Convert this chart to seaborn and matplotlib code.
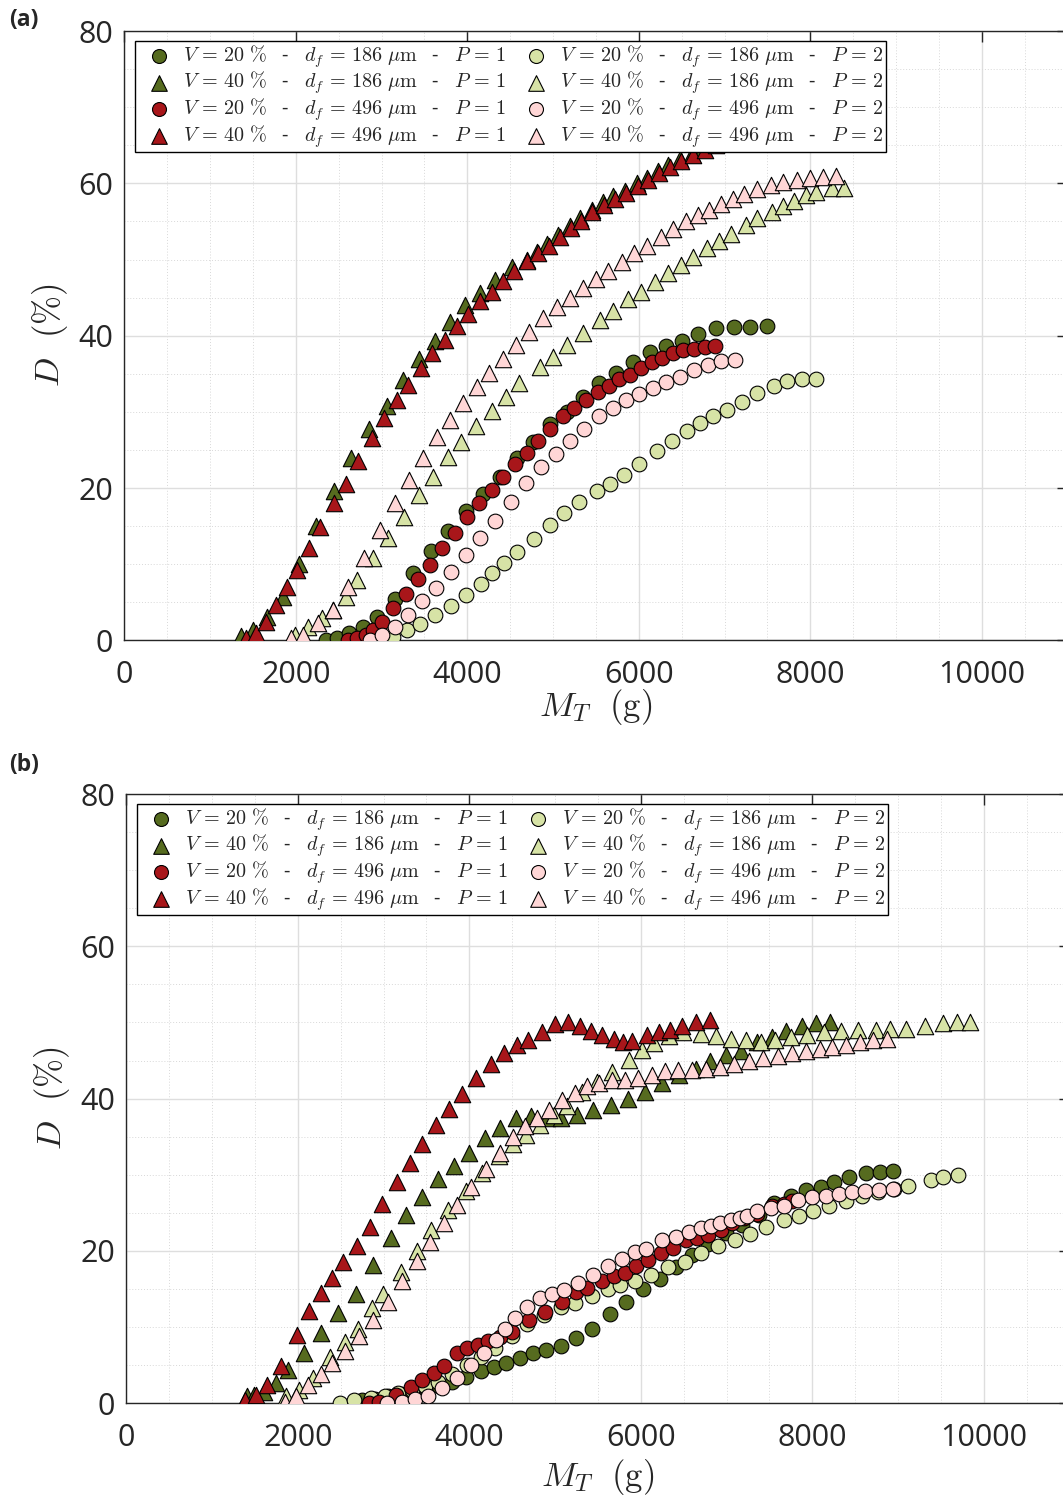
import numpy as np
import pandas as pd
import matplotlib
matplotlib.use("Agg")
import matplotlib.pyplot as plt
from matplotlib.ticker import MultipleLocator
import seaborn as sns

# ---------------- panel (a) ----------------
a_dg_circ_x = [2352, 2484, 2624, 2780, 2950, 3157, 3370, 3573, 3779, 3981, 4187, 4381, 4576, 4770, 4965, 5160,
               5354, 5540, 5736, 5937, 6131, 6314, 6501, 6695, 6901, 7111, 7297, 7492]
a_dg_circ_y = [0.1, 0.3, 0.9, 1.7, 3.1, 5.4, 8.8, 11.7, 14.4, 17.0, 19.2, 21.5, 23.9, 26.1, 28.4, 30.0,
               31.9, 33.8, 35.1, 36.6, 37.8, 38.6, 39.3, 40.2, 41.0, 41.1, 41.1, 41.3]

a_dr_circ_x = [2613, 2718, 2815, 2897, 3002, 3137, 3285, 3428, 3565, 3709, 3857, 4000, 4137, 4285, 4420, 4557,
               4693, 4829, 4965, 5113, 5245, 5385, 5521, 5657, 5773, 5898, 6027, 6151, 6268, 6396, 6520, 6645,
               6770, 6890]
a_dr_circ_y = [0.0, 0.3, 0.7, 1.4, 2.4, 4.3, 6.1, 8.1, 9.9, 12.1, 14.1, 16.2, 18.0, 19.8, 21.5, 23.2,
               24.6, 26.2, 27.7, 29.4, 30.5, 31.6, 32.6, 33.4, 34.3, 34.9, 35.8, 36.6, 37.1, 37.7, 38.1, 38.3,
               38.5, 38.6]

a_lg_circ_x = [3137, 3300, 3448, 3623, 3810, 3981, 4156, 4292, 4428, 4576, 4781, 4965, 5132, 5307, 5517, 5665,
               5829, 6006, 6209, 6384, 6559, 6714, 6869, 7032, 7200, 7383, 7577, 7733, 7900, 8068]
a_lg_circ_y = [0.4, 1.3, 2.2, 3.3, 4.5, 5.9, 7.4, 8.8, 10.1, 11.6, 13.3, 15.1, 16.7, 18.2, 19.6, 20.5,
               21.7, 23.2, 24.8, 26.2, 27.5, 28.5, 29.4, 30.3, 31.3, 32.5, 33.4, 34.1, 34.3, 34.3]

a_pk_circ_x = [2866, 3009, 3157, 3312, 3475, 3634, 3806, 3984, 4148, 4323, 4506, 4685, 4857, 5032, 5198, 5365,
               5536, 5696, 5851, 6006, 6162, 6317, 6481, 6645, 6804, 6959, 7122]
a_pk_circ_y = [0.1, 0.7, 1.8, 3.3, 5.1, 6.9, 9.0, 11.2, 13.5, 15.7, 18.2, 20.6, 22.7, 24.5, 26.2, 27.8,
               29.4, 30.5, 31.5, 32.3, 33.1, 33.9, 34.6, 35.5, 36.2, 36.7, 36.8]

a_dg_tri_x = [1357, 1497, 1660, 1847, 2037, 2235, 2445, 2640, 2853, 3060, 3247, 3440, 3623, 3798, 3973, 4148,
              4323, 4518, 4693, 4810, 4927, 5062, 5198, 5315, 5451, 5587, 5703, 5840, 5976, 6093, 6229, 6345,
              6481, 6617, 6753, 6890, 7030]
a_dg_tri_y = [0.6, 1.4, 3.1, 5.7, 10.0, 15.0, 19.6, 23.9, 27.7, 30.8, 34.2, 36.9, 39.3, 41.8, 44.0, 45.6,
              47.3, 49.0, 50.0, 51.0, 52.1, 53.2, 54.4, 55.4, 56.5, 57.5, 58.3, 59.0, 60.0, 60.7, 61.6, 62.4,
              63.2, 63.9, 64.6, 65.4, 66.2]

a_dr_tri_x = [1419, 1536, 1649, 1769, 1894, 2010, 2154, 2282, 2445, 2585, 2729, 2892, 3029, 3177, 3312, 3460,
              3592, 3740, 3884, 4012, 4148, 4292, 4420, 4548, 4700, 4830, 4950, 5080, 5210, 5330, 5460, 5600,
              5720, 5850, 5990, 6110, 6240, 6360, 6490, 6630, 6770, 6900, 7040]
a_dr_tri_y = [0.3, 0.9, 2.4, 4.6, 7.0, 9.2, 12.1, 14.9, 18.0, 20.5, 23.5, 26.6, 29.2, 31.5, 33.5, 35.7,
              37.7, 39.5, 41.3, 42.9, 44.5, 45.8, 47.2, 48.5, 49.8, 50.8, 51.8, 53.0, 54.1, 55.1, 56.2, 57.2,
              58.0, 58.8, 59.7, 60.4, 61.3, 62.1, 62.9, 63.7, 64.4, 65.1, 65.9]

a_lg_tri_x = [1991, 2147, 2302, 2438, 2582, 2718, 2904, 3072, 3262, 3440, 3604, 3779, 3923, 4101, 4285, 4448,
              4607, 4848, 4997, 5160, 5346, 5548, 5696, 5879, 6027, 6190, 6345, 6490, 6630, 6800, 6936, 7072,
              7247, 7383, 7551, 7679, 7811, 7951, 8068, 8250, 8393]
a_lg_tri_y = [0.7, 1.7, 2.9, 4.0, 5.7, 7.9, 10.8, 13.4, 16.2, 19.1, 21.5, 24.1, 26.0, 28.1, 30.1, 31.9,
              33.8, 35.9, 37.2, 38.8, 40.3, 42.1, 43.2, 44.8, 45.8, 47.1, 48.2, 49.3, 50.3, 51.5, 52.4, 53.4,
              54.5, 55.4, 56.3, 57.0, 57.7, 58.5, 58.9, 59.4, 59.4]

a_pk_tri_x = [1940, 2088, 2263, 2430, 2613, 2799, 2982, 3157, 3324, 3487, 3650, 3798, 3954, 4109, 4256, 4413,
              4568, 4723, 4887, 5043, 5198, 5346, 5501, 5645, 5801, 5948, 6100, 6256, 6403, 6548, 6688, 6823,
              6959, 7096, 7231, 7383, 7539, 7686, 7842, 7998, 8153, 8301]
a_pk_tri_y = [0.3, 0.7, 2.3, 4.0, 7.0, 10.8, 14.5, 18.0, 21.0, 23.9, 26.7, 28.9, 31.1, 33.2, 35.1, 37.0,
              38.8, 40.5, 42.3, 43.8, 45.0, 46.2, 47.4, 48.5, 49.7, 50.8, 51.8, 52.9, 54.0, 55.0, 55.8, 56.5,
              57.3, 58.0, 58.6, 59.2, 59.8, 60.2, 60.5, 60.7, 60.9, 61.0]

# ---------------- panel (b) ----------------
b_dg_circ_x = [2750, 2900, 3050, 3200, 3350, 3500, 3650, 3800, 3958, 4133, 4288, 4432, 4588, 4743, 4898, 5066,
               5248, 5434, 5641, 5831, 6026, 6220, 6407, 6594, 6784, 6990, 7184, 7378, 7553, 7748, 7930, 8098,
               8253, 8428, 8623, 8786, 8941]
b_dg_circ_y = [0.4, 0.6, 0.9, 1.2, 1.6, 2.0, 2.3, 2.8, 3.5, 4.3, 4.7, 5.3, 6.0, 6.6, 7.0, 7.5,
               8.6, 9.7, 11.7, 13.3, 15.0, 16.3, 17.9, 19.5, 20.9, 22.3, 23.4, 24.7, 26.3, 27.2, 28.0, 28.4,
               29.1, 29.7, 30.3, 30.4, 30.5]

b_dr_circ_x = [2830, 2947, 3141, 3317, 3452, 3588, 3705, 3853, 3977, 4105, 4222, 4355, 4501, 4696, 4883, 5085,
               5250, 5376, 5551, 5688, 5816, 5940, 6088, 6239, 6379, 6524, 6659, 6787, 6932, 7067, 7204, 7359,
               7527, 7670, 7767]
b_dr_circ_y = [0.0, 0.2, 1.1, 2.2, 3.1, 4.0, 4.9, 6.6, 7.2, 7.7, 8.2, 8.7, 9.4, 10.9, 12.0, 13.3,
               14.6, 15.2, 16.0, 16.7, 17.1, 18.0, 18.8, 19.7, 20.4, 21.4, 21.7, 22.1, 22.8, 23.7, 24.3, 24.9,
               25.9, 26.2, 26.5]

b_lg_circ_x = [2489, 2655, 2850, 3013, 3172, 3328, 3483, 3639, 3802, 3977, 4133, 4300, 4495, 4677, 4871, 5066,
               5233, 5428, 5618, 5758, 5932, 6115, 6321, 6512, 6706, 6900, 7095, 7270, 7464, 7670, 7845, 8012,
               8195, 8389, 8584, 8770, 8953, 9120, 9381, 9524, 9703]
b_lg_circ_y = [0.1, 0.4, 0.7, 1.0, 1.3, 1.8, 2.3, 2.8, 3.9, 5.0, 6.1, 7.2, 8.8, 10.4, 11.6, 12.7,
               13.2, 14.1, 15.0, 15.5, 16.0, 16.8, 17.9, 18.6, 19.7, 20.6, 21.4, 22.2, 23.2, 24.1, 24.6, 25.2,
               25.9, 26.6, 27.2, 27.7, 28.2, 28.5, 29.3, 29.7, 30.0]

b_pk_circ_x = [3044, 3212, 3363, 3518, 3678, 3860, 4016, 4171, 4308, 4416, 4533, 4677, 4825, 4961, 5104, 5271,
               5446, 5621, 5784, 5932, 6057, 6251, 6407, 6562, 6698, 6815, 6924, 7049, 7154, 7242, 7359, 7515,
               7670, 7837, 7993, 8156, 8311, 8460, 8611, 8778, 8941]
b_pk_circ_y = [0.0, 0.2, 0.5, 1.0, 2.0, 3.3, 5.0, 6.6, 8.3, 9.8, 11.2, 12.6, 13.8, 14.4, 14.9, 15.8,
               16.8, 18.0, 19.0, 19.9, 20.3, 21.4, 21.9, 22.5, 23.0, 23.3, 23.7, 24.1, 24.3, 24.6, 25.2, 25.6,
               25.9, 26.7, 27.1, 27.2, 27.5, 27.7, 27.9, 28.0, 28.1]

b_dg_tri_x = [1411, 1489, 1606, 1742, 1889, 2072, 2274, 2472, 2675, 2877, 3083, 3265, 3452, 3635, 3822, 3997,
              4180, 4358, 4541, 4716, 4903, 5066, 5260, 5446, 5649, 5851, 6046, 6244, 6446, 6640, 6804, 6990,
              7165, 7359, 7534, 7697, 7884, 8047, 8207]
b_dg_tri_y = [0.9, 1.1, 1.5, 2.6, 4.4, 6.6, 9.2, 11.8, 14.4, 18.2, 21.7, 24.7, 27.1, 29.4, 31.1, 32.9,
              34.8, 36.1, 37.4, 37.7, 37.4, 37.4, 37.9, 38.5, 39.2, 39.9, 40.9, 42.0, 43.1, 43.9, 44.9, 45.7,
              46.2, 47.5, 48.1, 48.9, 49.5, 49.9, 50.0]

b_dr_tri_x = [1384, 1509, 1645, 1800, 1994, 2131, 2274, 2402, 2531, 2687, 2842, 2985, 3153, 3305, 3452, 3608,
              3763, 3918, 4082, 4250, 4405, 4560, 4688, 4844, 4999, 5155, 5291, 5416, 5551, 5688, 5793, 5901,
              6076, 6212, 6341, 6484, 6647, 6804]
b_dr_tri_y = [0.4, 1.1, 2.4, 4.9, 9.0, 12.1, 14.5, 16.4, 18.6, 20.6, 23.1, 26.2, 29.0, 31.5, 34.0, 36.5,
              38.7, 40.6, 42.7, 44.6, 46.0, 47.0, 47.7, 48.8, 49.8, 50.0, 49.5, 48.9, 48.4, 47.8, 47.5, 47.6,
              48.4, 48.8, 49.0, 49.5, 50.0, 50.3]

b_lg_tri_x = [1859, 2014, 2181, 2376, 2547, 2706, 2869, 2997, 3200, 3387, 3557, 3755, 3958, 4152, 4346, 4513,
              4665, 4821, 4988, 5143, 5318, 5493, 5668, 5862, 6011, 6154, 6329, 6492, 6699, 6874, 7056, 7223,
              7398, 7565, 7755, 7942, 8136, 8338, 8533, 8739, 8906, 9096, 9314, 9528, 9691, 9839]
b_lg_tri_y = [0.9, 1.7, 3.3, 6.1, 8.1, 9.8, 12.5, 14.4, 17.3, 20.0, 22.8, 25.4, 27.9, 30.2, 32.5, 34.1,
              35.2, 36.5, 37.9, 39.0, 40.9, 42.2, 43.5, 45.1, 46.4, 47.3, 48.2, 48.7, 48.5, 48.2, 47.8, 47.7,
              47.5, 47.7, 48.1, 48.4, 48.7, 48.9, 49.0, 49.0, 49.1, 49.2, 49.5, 49.9, 50.0, 50.1]

b_pk_tri_x = [1847, 1975, 2123, 2267, 2402, 2550, 2714, 2880, 3055, 3219, 3387, 3542, 3705, 3860, 4023, 4191,
              4355, 4510, 4650, 4786, 4929, 5085, 5233, 5376, 5513, 5668, 5816, 5971, 6127, 6282, 6434, 6594,
              6764, 6924, 7087, 7262, 7425, 7600, 7767, 7930, 8086, 8233, 8390, 8553, 8711, 8868]
b_pk_tri_y = [0.2, 0.9, 2.4, 3.9, 5.3, 6.9, 8.8, 10.9, 13.3, 16.1, 18.7, 21.2, 23.7, 26.0, 28.4, 30.7,
              32.9, 35.0, 36.4, 37.4, 38.5, 39.8, 40.8, 41.6, 42.1, 42.5, 42.5, 42.7, 43.1, 43.6, 43.8, 43.7,
              43.9, 44.2, 44.5, 44.9, 45.3, 45.6, 46.0, 46.3, 46.5, 46.8, 47.1, 47.5, 47.7, 47.8]

labels = {
    "dg_circ": r"$V\, =\, 20\ \%$   -   $d_f\, =\, 186\ \mu\mathrm{m}$   -   $P\, =\, 1$",
    "dg_tri":  r"$V\, =\, 40\ \%$   -   $d_f\, =\, 186\ \mu\mathrm{m}$   -   $P\, =\, 1$",
    "dr_circ": r"$V\, =\, 20\ \%$   -   $d_f\, =\, 496\ \mu\mathrm{m}$   -   $P\, =\, 1$",
    "dr_tri":  r"$V\, =\, 40\ \%$   -   $d_f\, =\, 496\ \mu\mathrm{m}$   -   $P\, =\, 1$",
    "lg_circ": r"$V\, =\, 20\ \%$   -   $d_f\, =\, 186\ \mu\mathrm{m}$   -   $P\, =\, 2$",
    "lg_tri":  r"$V\, =\, 40\ \%$   -   $d_f\, =\, 186\ \mu\mathrm{m}$   -   $P\, =\, 2$",
    "pk_circ": r"$V\, =\, 20\ \%$   -   $d_f\, =\, 496\ \mu\mathrm{m}$   -   $P\, =\, 2$",
    "pk_tri":  r"$V\, =\, 40\ \%$   -   $d_f\, =\, 496\ \mu\mathrm{m}$   -   $P\, =\, 2$",
}
colors = {"dg": "#566B1F", "dr": "#A8161A", "lg": "#D7E3A6", "pk": "#FFD6D6"}

sns.set_style("white")
plt.rcParams["font.family"] = ["Open Sans", "DejaVu Sans"]
plt.rcParams["mathtext.fontset"] = "cm"

fig = plt.figure(figsize=(10.63, 15.01), dpi=100)
ax_a = fig.add_axes([0.1169, 0.5734, 0.8874, 0.4059])
ax_b = fig.add_axes([0.1188, 0.0651, 0.8874, 0.4059])

draw_order = ["dg_circ", "lg_circ", "dr_circ", "pk_circ", "dg_tri", "lg_tri", "dr_tri", "pk_tri"]
legend_order = ["dg_circ", "dg_tri", "dr_circ", "dr_tri", "lg_circ", "lg_tri", "pk_circ", "pk_tri"]

panels = [(ax_a, "a", (0.0115, 0.984), -2.0), (ax_b, "b", (0.0115, 0.984), 3.0)]
for ax, pre, anchor, xpad in panels:
    g = globals()
    for key in draw_order:
        xs = g[f"{pre}_{key}_x"]
        ys = g[f"{pre}_{key}_y"]
        tri = key.endswith("tri")
        sns.scatterplot(x=xs, y=ys, ax=ax, color=colors[key[:2]], marker="^" if tri else "o",
                        s=140 if tri else 112, edgecolor="black", linewidth=0.8,
                        label=labels[key], zorder=3)
    h, l = ax.get_legend_handles_labels()
    hmap = dict(zip(l, h))
    leg = ax.legend([hmap[labels[k]] for k in legend_order], [labels[k] for k in legend_order],
                    ncol=2, loc="upper left", bbox_to_anchor=anchor, fontsize=14.5,
                    frameon=True, fancybox=False, framealpha=1, edgecolor="black",
                    borderpad=0.12, labelspacing=0.0, handletextpad=0.15, columnspacing=0.45,
                    handlelength=2.1, borderaxespad=0, markerscale=0.95)
    leg.get_frame().set_linewidth(1.0)
    leg.set_zorder(10)

    ax.set_xlim(0, 11000)
    ax.set_ylim(0, 80)
    ax.xaxis.set_major_locator(MultipleLocator(2000))
    ax.yaxis.set_major_locator(MultipleLocator(20))
    ax.xaxis.set_minor_locator(MultipleLocator(500))
    ax.yaxis.set_minor_locator(MultipleLocator(5))
    ax.grid(which="major", color="#dedede", linewidth=1.0, linestyle="-")
    ax.grid(which="minor", color="#d8d8d8", linewidth=0.7, linestyle=(0, (1, 2)))
    ax.set_axisbelow(True)
    ax.tick_params(which="major", direction="in", length=8, width=1, top=True, right=True,
                   labelsize=22, colors="#262626")
    ax.tick_params(axis="x", which="major", pad=14)
    ax.tick_params(axis="y", which="major", pad=8)
    ax.tick_params(which="minor", length=0)
    for sp in ax.spines.values():
        sp.set_color("#262626")
        sp.set_linewidth(1.0)
    ax.set_xlabel(r"$M_T\ \ (\mathrm{g})$", fontsize=25, labelpad=xpad)
    ax.set_ylabel(r"$D\ \ (\%)$", fontsize=25, labelpad=6)

fig.text(0.009, 0.987, "(a)", fontsize=16.5, fontweight="bold", ha="left", va="center")
fig.text(0.009, 0.4905, "(b)", fontsize=16.5, fontweight="bold", ha="left", va="center")

fig.savefig("out.png", dpi=100)
